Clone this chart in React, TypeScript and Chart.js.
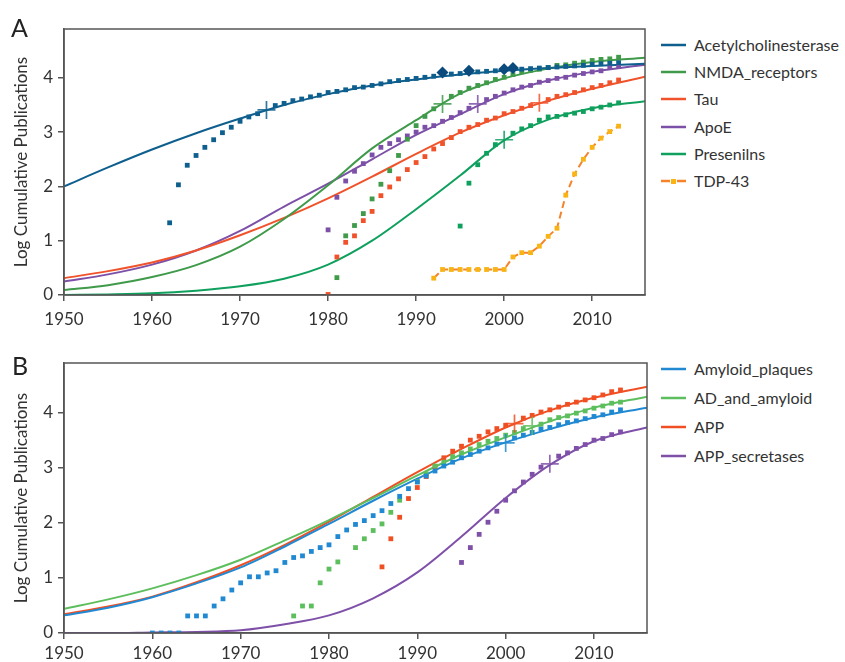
import React, { useEffect, useRef } from 'react';
import { Chart, registerables } from 'chart.js';

Chart.register(...registerables);

const FONT = 'Lato, "Open Sans", sans-serif';
const TEXT = '#333333';
const FRAME = '#555555';

// ---------- shared axes ----------
const xTicks = [1950, 1960, 1970, 1980, 1990, 2000, 2010];
const yTicks = [0, 1, 2, 3, 4];
const curveYears = [1950, 1955, 1960, 1965, 1970, 1975, 1980, 1985, 1990, 1995, 2000, 2005, 2010, 2016];

// ---------- Panel A ----------
const seriesA = ['Acetylcholinesterase', 'NMDA_receptors', 'Tau', 'ApoE', 'Presenilns', 'TDP-43'];
const colorsA = ['#0e5f8e', '#3f9a4a', '#f0532b', '#7d50a8', '#0fa05e', '#f5832a'];

// fitted curves (values at curveYears)
const curveAche = [2.0, 2.35, 2.68, 2.98, 3.25, 3.5, 3.7, 3.86, 3.97, 4.06, 4.13, 4.18, 4.22, 4.26];
const curveNmda = [0.09, 0.18, 0.33, 0.55, 0.89, 1.4, 2.02, 2.7, 3.22, 3.71, 3.99, 4.17, 4.29, 4.37];
const curveTau = [0.31, 0.44, 0.6, 0.82, 1.1, 1.42, 1.78, 2.18, 2.6, 2.99, 3.31, 3.58, 3.8, 4.02];
const curveApoe = [0.25, 0.38, 0.56, 0.82, 1.18, 1.63, 2.05, 2.5, 2.95, 3.33, 3.7, 3.95, 4.11, 4.24];
const curvePsen = [0.0, 0.01, 0.03, 0.08, 0.16, 0.3, 0.56, 1.0, 1.58, 2.2, 2.85, 3.23, 3.44, 3.57];

// yearly data points (first year + values)
const acheStart = 1962;
const acheVals = [1.33, 2.03, 2.39, 2.57, 2.72, 2.86, 2.99, 3.09, 3.2, 3.28, 3.34, null, 3.49, 3.53, 3.58, 3.61, 3.65, 3.68, 3.73, 3.75, 3.78, 3.82, 3.83, 3.86, 3.89, 3.93, 3.95, 3.97, 3.99, 4.01, 4.03, null, 4.07, 4.08, null, 4.11, 4.12, 4.13, null, null, 4.16, 4.17, 4.18, 4.19, 4.2, 4.21, 4.22, 4.23, 4.25, 4.26, 4.27, 4.28];
const acheDiamondYears = [1993, 1996, 2000, 2001];
const acheDiamondVals = [4.1, 4.13, 4.16, 4.18];

const nmdaStart = 1981;
const nmdaVals = [0.32, 1.09, 1.28, 1.5, 1.77, 2.04, 2.29, 2.57, 2.87, 3.12, 3.29, 3.43, null, 3.66, 3.73, 3.81, 3.86, 3.91, 3.97, 4.01, 4.06, 4.11, 4.14, 4.16, 4.19, 4.23, 4.24, 4.27, 4.29, 4.32, 4.34, 4.35, 4.38];

const tauStart = 1980;
const tauVals = [0.01, 0.7, 0.97, 1.09, 1.37, 1.54, 1.83, 1.99, 2.14, 2.31, 2.44, 2.55, 2.69, 2.79, 2.9, 3.01, 3.09, 3.14, 3.22, 3.26, 3.34, 3.38, 3.44, 3.49, null, 3.6, 3.66, 3.69, 3.73, 3.78, 3.82, 3.86, 3.91, 3.96];

const apoeStart = 1980;
const apoeVals = [1.2, 1.8, 2.1, 2.28, 2.42, 2.58, 2.72, 2.79, 2.86, 2.93, 3.0, 3.09, 3.12, 3.2, 3.27, 3.36, 3.44, null, 3.6, 3.66, 3.72, 3.78, 3.83, 3.86, 3.92, 3.95, 3.99, 4.01, 4.05, 4.08, 4.11, 4.13, 4.19, 4.21];

const psenStart = 1995;
const psenVals = [1.27, 2.06, 2.4, 2.61, 2.77, null, 2.98, 3.06, 3.12, 3.22, 3.28, 3.29, 3.32, 3.35, 3.38, 3.43, 3.46, 3.5, 3.54];

const tdpStart = 1992;
const tdpVals = [0.31, 0.47, 0.47, 0.47, 0.47, 0.47, 0.47, 0.47, 0.47, 0.7, 0.78, 0.78, 0.9, 1.08, 1.23, 1.84, 2.23, 2.5, 2.72, 2.89, 3.01, 3.11];

const crossYearsA = [1973, 1993, 2004, 1997, 2000];
const crossValsA = [3.41, 3.52, 3.54, 3.52, 2.86];

// ---------- Panel B ----------
const seriesB = ['Amyloid_plaques', 'AD_and_amyloid', 'APP', 'APP_secretases'];
const colorsB = ['#2189d2', '#5dbe5d', '#f04f24', '#7f50a8'];

const curvePlaques = [0.32, 0.46, 0.65, 0.9, 1.19, 1.57, 1.98, 2.4, 2.8, 3.17, 3.46, 3.7, 3.91, 4.09];
const curveAdAmy = [0.44, 0.61, 0.81, 1.05, 1.33, 1.68, 2.05, 2.45, 2.86, 3.24, 3.55, 3.84, 4.09, 4.29];
const curveApp = [0.34, 0.48, 0.66, 0.92, 1.23, 1.6, 2.02, 2.47, 2.92, 3.34, 3.73, 4.04, 4.27, 4.47];
const curveSecr = [0.0, 0.0, 0.01, 0.02, 0.05, 0.16, 0.32, 0.63, 1.1, 1.75, 2.45, 3.05, 3.48, 3.73];

const plaquesStart = 1960;
const plaquesVals = [0, 0, 0, 0, 0.31, 0.31, 0.31, 0.49, 0.62, 0.78, 0.91, 1.02, 1.02, 1.09, 1.13, 1.28, 1.37, 1.4, 1.48, 1.55, 1.6, 1.75, 1.87, 1.97, 2.04, 2.13, 2.22, 2.35, 2.48, 2.62, 2.74, 2.85, 2.94, 3.03, 3.1, 3.18, 3.24, 3.3, 3.36, 3.43, null, 3.54, 3.59, 3.64, 3.7, 3.73, 3.78, 3.82, 3.85, 3.89, 3.93, 3.96, 4.01, 4.05];

const adAmyStart = 1976;
const adAmyVals = [0.31, 0.49, 0.49, 0.91, 1.16, 1.29, null, 1.55, 1.71, 1.86, 1.98, 2.19, 2.41, null, 2.75, 2.89, 3.03, 3.1, 3.2, 3.27, 3.34, 3.42, 3.48, 3.53, 3.59, 3.64, 3.71, null, 3.79, 3.87, 3.91, 3.94, 3.99, 4.03, 4.08, 4.12, 4.17, 4.19];

const appStart = 1986;
const appVals = [1.2, 1.71, 2.1, 2.44, 2.64, 2.84, 3.02, 3.18, 3.3, 3.39, 3.5, 3.57, 3.65, 3.71, 3.77, null, 3.9, 3.95, 4.01, 4.05, 4.1, 4.15, 4.19, 4.23, 4.27, 4.32, 4.38, 4.41];

const secrStart = 1995;
const secrVals = [1.28, 1.55, 1.79, 2.01, 2.21, 2.41, 2.58, 2.74, 2.88, 3.01, null, 3.21, 3.27, 3.35, 3.42, 3.5, 3.53, 3.6, 3.65];

const crossYearsB = [2000, 2003, 2001, 2005];
const crossValsB = [3.45, 3.76, 3.8, 3.07];

// ---------- helpers ----------
type P = { x: number; y: number };
const yearly = (start: number, vals: (number | null)[]): P[] =>
  vals.map((v, i) => (v == null ? null : { x: start + i, y: v })).filter((p): p is P => p !== null);
const curvePts = (vals: number[]): P[] => curveYears.map((x, i) => ({ x, y: vals[i] }));
const alpha = (hex: string, a: number) => {
  const n = parseInt(hex.slice(1), 16);
  return `rgba(${(n >> 16) & 255},${(n >> 8) & 255},${n & 255},${a})`;
};

const curveDs = (label: string, color: string, vals: number[]) => ({
  label,
  data: curvePts(vals),
  showLine: true,
  borderColor: color,
  backgroundColor: color,
  borderWidth: 2,
  pointRadius: 0,
  cubicInterpolationMode: 'monotone' as const,
  order: 3,
});
const squaresDs = (label: string, color: string, start: number, vals: (number | null)[]) => ({
  label,
  data: yearly(start, vals),
  showLine: false,
  pointStyle: 'rect' as const,
  pointRadius: 3.4,
  pointBorderWidth: 0,
  backgroundColor: color,
  borderColor: color,
  order: 2,
});
const crossDs = (label: string, color: string, x: number, y: number) => ({
  label,
  data: [{ x, y }],
  showLine: false,
  pointStyle: 'cross' as const,
  pointRadius: 9,
  pointBorderWidth: 1.7,
  borderColor: alpha(color, 0.85),
  backgroundColor: alpha(color, 0.85),
  order: 1,
});

const framePlugin = {
  id: 'frame',
  afterDraw(chart: any) {
    const { ctx, chartArea: a } = chart;
    ctx.save();
    ctx.strokeStyle = FRAME;
    ctx.lineWidth = 1.5;
    ctx.strokeRect(a.left, a.top, a.right - a.left, a.bottom - a.top);
    ctx.restore();
  },
};

function makeOptions(padTop: number, padRight: number, xHeight: number, xPad: number) {
  const grid = { display: true, drawOnChartArea: false, drawTicks: true, tickLength: 6, color: FRAME, lineWidth: 1.5 };
  const border = { display: true, color: FRAME, width: 1.5 };
  return {
    responsive: false,
    animation: false as const,
    events: [] as any[],
    layout: { padding: { left: 0, right: padRight, top: padTop, bottom: 0 } },
    plugins: { legend: { display: false }, tooltip: { enabled: false } },
    scales: {
      x: {
        type: 'linear' as const,
        min: 1950,
        max: 2016,
        afterBuildTicks: (s: any) => {
          s.ticks = xTicks.map((v) => ({ value: v }));
        },
        afterFit: (s: any) => {
          s.height = xHeight;
        },
        ticks: {
          color: TEXT,
          font: { size: 17, family: FONT },
          padding: xPad,
          maxRotation: 0,
          autoSkip: false,
          callback: (v: any) => String(v),
        },
        grid,
        border,
      },
      y: {
        type: 'linear' as const,
        min: 0,
        max: 4.9,
        afterBuildTicks: (s: any) => {
          s.ticks = yTicks.map((v) => ({ value: v }));
        },
        afterFit: (s: any) => {
          s.width = 64;
        },
        title: {
          display: true,
          text: 'Log Cumulative Publications',
          color: TEXT,
          font: { size: 17, family: FONT },
          padding: { top: 11, bottom: 0 },
        },
        ticks: {
          color: TEXT,
          font: { size: 17, family: FONT },
          padding: 5,
          callback: (v: any) => String(v),
        },
        grid,
        border,
      },
    },
  };
}

function buildA() {
  const curves = [curveAche, curveNmda, curveTau, curveApoe, curvePsen];
  const ds: any[] = [];
  curves.forEach((c, i) => ds.push(curveDs(seriesA[i], colorsA[i], c)));
  ds.push(squaresDs(seriesA[0], colorsA[0], acheStart, acheVals));
  ds.push(squaresDs(seriesA[1], colorsA[1], nmdaStart, nmdaVals));
  ds.push(squaresDs(seriesA[2], colorsA[2], tauStart, tauVals));
  ds.push(squaresDs(seriesA[3], colorsA[3], apoeStart, apoeVals));
  ds.push(squaresDs(seriesA[4], colorsA[4], psenStart, psenVals));
  ds.push({
    label: seriesA[5],
    data: yearly(tdpStart, tdpVals),
    showLine: true,
    borderColor: colorsA[5],
    borderWidth: 2,
    borderDash: [7, 4],
    pointStyle: 'rect',
    pointRadius: 3.4,
    pointBorderWidth: 0,
    pointBackgroundColor: '#f8b415',
    backgroundColor: '#f8b415',
    order: 2,
  });
  ds.push({
    label: seriesA[0] + ' (diamond)',
    data: acheDiamondYears.map((x, i) => ({ x, y: acheDiamondVals[i] })),
    showLine: false,
    pointStyle: 'rectRot',
    pointRadius: 6,
    pointBorderWidth: 0,
    backgroundColor: '#0b4a7c',
    order: 1,
  });
  crossYearsA.forEach((x, i) => ds.push(crossDs(seriesA[i], colorsA[i], x, crossValsA[i])));
  return ds;
}

function buildB() {
  const curves = [curvePlaques, curveAdAmy, curveApp, curveSecr];
  const ds: any[] = [];
  curves.forEach((c, i) => ds.push(curveDs(seriesB[i], colorsB[i], c)));
  ds.push(squaresDs(seriesB[0], colorsB[0], plaquesStart, plaquesVals));
  ds.push(squaresDs(seriesB[1], colorsB[1], adAmyStart, adAmyVals));
  ds.push(squaresDs(seriesB[2], colorsB[2], appStart, appVals));
  ds.push(squaresDs(seriesB[3], colorsB[3], secrStart, secrVals));
  crossYearsB.forEach((x, i) => ds.push(crossDs(seriesB[i], colorsB[i], x, crossValsB[i])));
  return ds;
}

function Legend({ items, colors, top, step, dashedLast }: { items: string[]; colors: string[]; top: number; step: number; dashedLast?: boolean }) {
  return (
    <>
      {items.map((t, i) => {
        const cy = top + i * step;
        const dashed = dashedLast && i === items.length - 1;
        return (
          <div key={t} style={{ position: 'absolute', left: 661, top: cy - 10, height: 20, width: 184 }}>
            <svg width={26} height={20} style={{ position: 'absolute', left: 0, top: 0 }}>
              {dashed ? (
                <>
                  <line x1={0} y1={10} x2={9} y2={10} stroke={colors[i]} strokeWidth={2.5} />
                  <line x1={16} y1={10} x2={25} y2={10} stroke={colors[i]} strokeWidth={2.5} />
                  <rect x={10} y={8} width={5} height={5} fill="#f8b415" />
                </>
              ) : (
                <line x1={0} y1={10} x2={25} y2={10} stroke={colors[i]} strokeWidth={2.5} />
              )}
            </svg>
            <span
              style={{
                position: 'absolute',
                left: 33,
                top: 0,
                lineHeight: '20px',
                fontSize: 16,
                fontFamily: FONT,
                color: TEXT,
                whiteSpace: 'nowrap',
              }}
            >
              {t}
            </span>
          </div>
        );
      })}
    </>
  );
}

export default function App() {
  const refA = useRef<HTMLCanvasElement>(null);
  const refB = useRef<HTMLCanvasElement>(null);

  useEffect(() => {
    Chart.defaults.font.family = FONT;
    const a = new Chart(refA.current!, {
      type: 'scatter',
      data: { datasets: buildA() },
      options: makeOptions(29, 15, 35, 8) as any,
      plugins: [framePlugin],
    });
    const b = new Chart(refB.current!, {
      type: 'scatter',
      data: { datasets: buildB() },
      options: makeOptions(33, 13, 29, 4) as any,
      plugins: [framePlugin],
    });
    return () => {
      a.destroy();
      b.destroy();
    };
  }, []);

  const letter: React.CSSProperties = {
    position: 'absolute',
    fontFamily: FONT,
    fontSize: 25,
    lineHeight: '30px',
    color: '#222',
  };

  return (
    <div style={{ position: 'absolute', left: 0, top: 0, width: 845, height: 662, background: '#fff', overflow: 'hidden' }}>
      <canvas ref={refB} width={660} height={332} style={{ position: 'absolute', left: 0, top: 330, width: 660, height: 332 }} />
      <canvas ref={refA} width={660} height={330} style={{ position: 'absolute', left: 0, top: 0, width: 660, height: 330 }} />
      <div style={{ ...letter, left: 11, top: 12 }}>A</div>
      <div style={{ ...letter, left: 12, top: 350 }}>B</div>
      <Legend items={seriesA} colors={colorsA} top={45} step={27.2} dashedLast />
      <Legend items={seriesB} colors={colorsB} top={369} step={29} />
    </div>
  );
}
